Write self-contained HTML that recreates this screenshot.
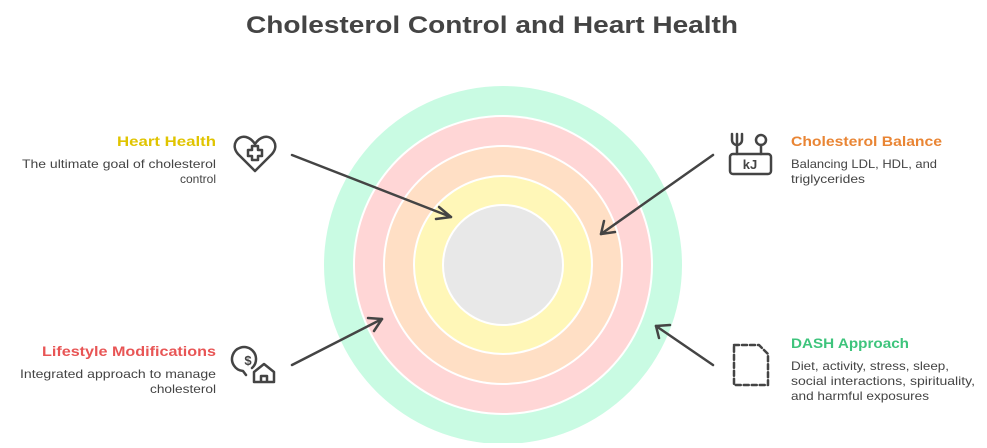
<!DOCTYPE html>
<html><head><meta charset="utf-8"><style>
body{margin:0;width:987px;height:443px;background:#fff;overflow:hidden;font-family:"Liberation Sans",sans-serif;}
</style></head><body>
<svg width="987" height="443" xmlns="http://www.w3.org/2000/svg" font-family="Liberation Sans, sans-serif">
<text x="246" y="33" textLength="492" lengthAdjust="spacingAndGlyphs" font-size="24" font-weight="bold" fill="#444">Cholesterol Control and Heart Health</text>
<circle cx="503" cy="265" r="179" fill="#c9fbe3"/>
<circle cx="503" cy="265" r="150" fill="#fff"/>
<circle cx="503" cy="265" r="148" fill="#ffd6d6"/>
<circle cx="503" cy="265" r="120" fill="#fff"/>
<circle cx="503" cy="265" r="118" fill="#ffdfc5"/>
<circle cx="503" cy="265" r="90" fill="#fff"/>
<circle cx="503" cy="265" r="88" fill="#fff7b8"/>
<circle cx="503" cy="265" r="61" fill="#fff"/>
<circle cx="503" cy="265" r="59" fill="#e8e8e8"/>
<g stroke="#444" stroke-width="2.5" fill="none" stroke-linecap="round" stroke-linejoin="round">
<line x1="292" y1="155" x2="451" y2="217"/><polyline points="439,207 451,217 436,219"/>
<line x1="713" y1="155" x2="601" y2="234"/><polyline points="604,221 601,234 615,232"/>
<line x1="292" y1="365" x2="382" y2="319"/><polyline points="368,318 382,319 374,331"/>
<line x1="713" y1="365" x2="656" y2="326"/><polyline points="659,338 656,326 670,325"/>
<path d="M255,171 L238,154 C230,145 238,135 246,137 C250,138 253,141 255,144 C257,141 260,138 264,137 C272,135 280,145 272,154 Z"/>
<path d="M252,146 h6 v4 h4 v6 h-4 v4 h-6 v-4 h-4 v-6 h4 z"/>
<rect x="730" y="154" width="41" height="20" rx="3"/>
<path d="M737,134 v20 M732,134 v6 a5,5 0 0 0 10,0 v-6"/>
<circle cx="761" cy="140" r="5"/><line x1="761" y1="145" x2="761" y2="154"/>
<path d="M246,375 l-3,-4 a12,12 0 1 1 9,-3"/>
<path d="M254,382 v-10 l10,-8 l10,8 v10 z M261,382 v-6 h6 v6"/>
<path d="M734,345 h25 l9,9 v31 h-34 z" stroke-dasharray="5,3"/>
</g>
<text x="248" y="365" text-anchor="middle" font-size="13" font-weight="bold" fill="#444">$</text>
<text x="750" y="169" text-anchor="middle" font-size="13" font-weight="bold" fill="#444">kJ</text>
<g font-size="13.5" font-weight="bold" lengthAdjust="spacingAndGlyphs">
<text x="117" y="146" textLength="99" lengthAdjust="spacingAndGlyphs" fill="#e0c400">Heart Health</text>
<text x="42" y="356" textLength="174" lengthAdjust="spacingAndGlyphs" fill="#e85555">Lifestyle Modifications</text>
<text x="791" y="146" textLength="151" lengthAdjust="spacingAndGlyphs" fill="#e98534">Cholesterol Balance</text>
<text x="791" y="348" textLength="118" lengthAdjust="spacingAndGlyphs" fill="#3ec47c">DASH Approach</text>
</g>
<g font-size="12" fill="#444">
<text x="22" y="168" textLength="194" lengthAdjust="spacingAndGlyphs">The ultimate goal of cholesterol</text>
<text x="180" y="183" textLength="36" lengthAdjust="spacingAndGlyphs">control</text>
<text x="20" y="378" textLength="196" lengthAdjust="spacingAndGlyphs">Integrated approach to manage</text>
<text x="150" y="393" textLength="66" lengthAdjust="spacingAndGlyphs">cholesterol</text>
<text x="791" y="168" textLength="146" lengthAdjust="spacingAndGlyphs">Balancing LDL, HDL, and</text>
<text x="791" y="183" textLength="74" lengthAdjust="spacingAndGlyphs">triglycerides</text>
<text x="791" y="370" textLength="158" lengthAdjust="spacingAndGlyphs">Diet, activity, stress, sleep,</text>
<text x="791" y="385" textLength="184" lengthAdjust="spacingAndGlyphs">social interactions, spirituality,</text>
<text x="791" y="400" textLength="138" lengthAdjust="spacingAndGlyphs">and harmful exposures</text>
</g>
</svg>
</body></html>
